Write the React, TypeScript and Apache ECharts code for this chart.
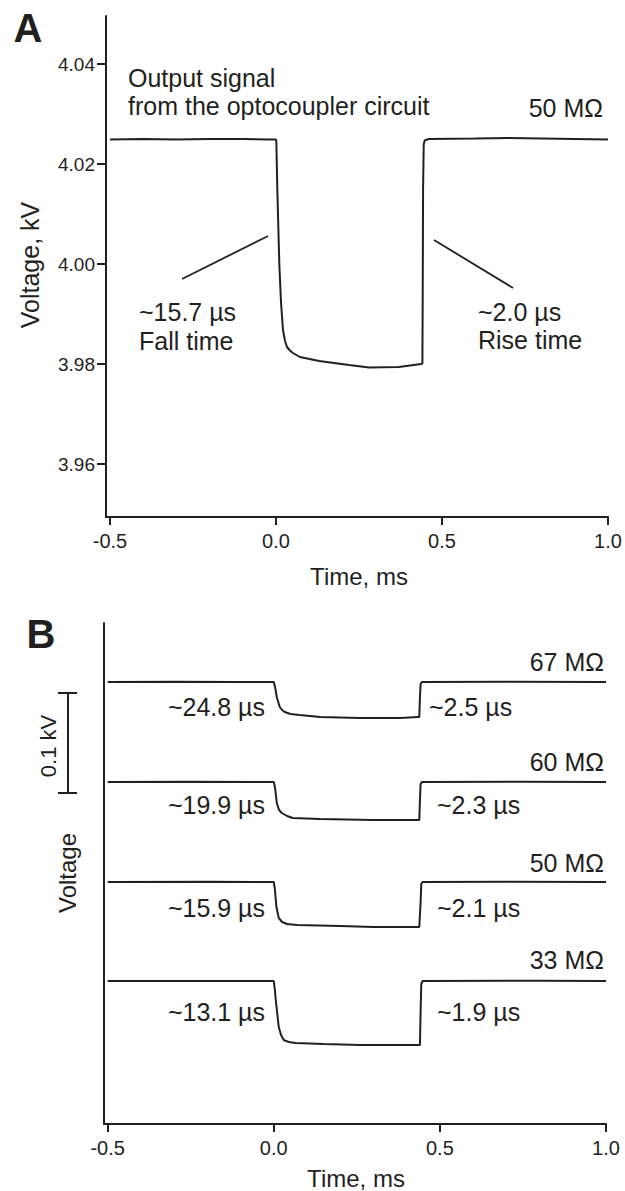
import React, { useEffect, useRef } from "react";
import * as echarts from "echarts";

const FONT = "'Liberation Sans', Arial, Helvetica, sans-serif";
const INK = "#231f20";

// ---------- Panel A: output signal, 50 MΩ ----------
const timeA = [-0.5, -0.4, -0.3, -0.2, -0.1, -0.02, 0.0, 0.001, 0.004, 0.01, 0.015, 0.021, 0.027, 0.033, 0.042, 0.051, 0.072, 0.13, 0.22, 0.28, 0.37, 0.437, 0.441, 0.442, 0.443, 0.445, 0.448, 0.46, 0.6, 0.7, 0.8, 0.9, 1.0];
const voltA = [4.0249, 4.025, 4.0249, 4.025, 4.025, 4.0249, 4.0249, 4.0246, 4.015, 4.0, 3.9925, 3.9868, 3.9847, 3.9834, 3.9827, 3.9822, 3.9814, 3.9806, 3.9798, 3.9793, 3.9794, 3.98, 3.9801, 3.995, 4.015, 4.024, 4.0247, 4.025, 4.0251, 4.0252, 4.0251, 4.025, 4.0249];
const yTicksA = [3.96, 3.98, 4.0, 4.02, 4.04];
const xTicks = [-0.5, 0.0, 0.5, 1.0];
// leader lines [x1, y1, x2, y2] in data units
const leadersA = [
  [-0.283, 3.997, -0.024, 4.0056],
  [0.476, 4.0048, 0.714, 3.9952],
];

// ---------- Panel B: four resistances ----------
const traceNames = ["67 MΩ", "60 MΩ", "50 MΩ", "33 MΩ"];
const fallTimes = ["~24.8 µs", "~19.9 µs", "~15.9 µs", "~13.1 µs"];
const riseTimes = ["~2.5 µs", "~2.3 µs", "~2.1 µs", "~1.9 µs"];
const traceOffsets = [0.442, 0.342, 0.242, 0.143]; // kV, vertical stacking
const t67 = [-0.5, -0.3, -0.1, 0.0, 0.004, 0.009, 0.018, 0.025, 0.033, 0.05, 0.078, 0.14, 0.26, 0.38, 0.434, 0.438, 0.44, 0.442, 0.446, 0.7, 1.0];
const v67 = [0, 0.0003, 0, 0, -0.005, -0.015, -0.025, -0.028, -0.03, -0.032, -0.033, -0.035, -0.036, -0.036, -0.035, -0.035, -0.015, -0.002, 0, 0.0002, 0];
const t60 = [-0.5, -0.25, 0.0, 0.004, 0.009, 0.016, 0.024, 0.04, 0.057, 0.14, 0.3, 0.434, 0.438, 0.44, 0.442, 0.446, 0.75, 1.0];
const v60 = [0, 0.0002, 0, -0.006, -0.021, -0.028, -0.031, -0.034, -0.036, -0.037, -0.038, -0.038, -0.038, -0.018, -0.002, 0, 0.0002, 0];
const t50 = [-0.5, -0.2, 0.0, 0.003, 0.008, 0.015, 0.025, 0.04, 0.07, 0.2, 0.3, 0.438, 0.44, 0.442, 0.444, 0.448, 0.7, 1.0];
const v50 = [0, 0.0003, 0, -0.006, -0.025, -0.036, -0.04, -0.042, -0.043, -0.044, -0.045, -0.045, -0.045, -0.02, -0.002, 0, 0.0003, 0];
const t33 = [-0.5, -0.2, 0.0, 0.003, 0.006, 0.015, 0.022, 0.03, 0.045, 0.066, 0.15, 0.26, 0.437, 0.44, 0.442, 0.444, 0.448, 0.8, 1.0];
const v33 = [0, 0, 0, -0.008, -0.019, -0.046, -0.054, -0.059, -0.061, -0.062, -0.063, -0.064, -0.064, -0.064, -0.03, -0.003, 0, 0.0002, 0];
const tracesT = [t67, t60, t50, t33];
const tracesV = [v67, v60, v50, v33];
const scaleBar = [0.331, 0.431]; // 0.1 kV scale bar, bottom / top

function txt(text: string, x: number, y: number, size: number, align: string, extra: any = {}) {
  return {
    type: "text",
    x,
    y,
    rotation: extra.rotation || 0,
    style: {
      text,
      fill: INK,
      fontSize: size,
      fontFamily: FONT,
      fontWeight: extra.bold ? "bold" : "normal",
      align,
      verticalAlign: "middle",
    },
  };
}

export default function App() {
  const ref = useRef<HTMLDivElement>(null);
  useEffect(() => {
    if (!ref.current) return;
    const chart = echarts.init(ref.current, undefined, { renderer: "svg" });
    const axisLine = { show: true, onZero: false, lineStyle: { color: INK, width: 2 } };
    const lineSeries = (data: number[][], idx: number) => ({
      type: "line",
      xAxisIndex: idx,
      yAxisIndex: idx,
      data,
      showSymbol: false,
      symbol: "none",
      lineStyle: { color: INK, width: 2 },
      silent: true,
    });
    const seriesB = tracesT.map((ts, i) =>
      lineSeries(ts.map((t, j) => [t, tracesV[i][j] + traceOffsets[i]]), 1)
    );
    const labelsB: any[] = [];
    const baseY = [662, 762, 863, 960];
    const lowY = [707, 805, 908, 1012];
    for (let i = 0; i < 4; i++) {
      labelsB.push(txt(traceNames[i], 604, baseY[i], 25, "right"));
      labelsB.push(txt(fallTimes[i], 265, lowY[i], 25, "right"));
      labelsB.push(txt(riseTimes[i], i === 0 ? 429 : 437, lowY[i], 25, "left"));
    }
    const xAxisCfg = (grid: number, min: number) => ({
      gridIndex: grid,
      type: "value",
      min,
      max: 1.0,
      axisLine,
      splitLine: { show: false },
      axisTick: { show: true, length: 8, lineStyle: { color: INK, width: 2 }, customValues: xTicks },
      axisLabel: { customValues: xTicks, formatter: (v: number) => v.toFixed(1), fontSize: 20, color: INK, fontFamily: FONT, margin: 14 },
    });
    chart.setOption({
      animation: false,
      grid: [
        { left: 106, top: 16, width: 502, height: 501 },
        { left: 104, top: 623, width: 502, height: 501 },
      ],
      xAxis: [xAxisCfg(0, -0.512), xAxisCfg(1, -0.511)],
      yAxis: [
        {
          gridIndex: 0,
          type: "value",
          min: 3.9494,
          max: 4.0496,
          axisLine,
          splitLine: { show: false },
          axisTick: { show: true, length: 9, lineStyle: { color: INK, width: 2 }, customValues: yTicksA },
          axisLabel: { customValues: yTicksA, formatter: (v: number) => v.toFixed(2), fontSize: 19, color: INK, fontFamily: FONT, margin: 11 },
        },
        {
          gridIndex: 1,
          type: "value",
          min: 0,
          max: 0.501,
          axisLine,
          splitLine: { show: false },
          axisTick: { show: false },
          axisLabel: { show: false },
        },
      ],
      series: [
        lineSeries(timeA.map((t, i) => [t, voltA[i]]), 0),
        {
          type: "custom",
          xAxisIndex: 0,
          yAxisIndex: 0,
          clip: false,
          silent: true,
          data: leadersA,
          renderItem: (_p: any, api: any) => {
            const a = api.coord([api.value(0), api.value(1)]);
            const b = api.coord([api.value(2), api.value(3)]);
            return {
              type: "line",
              shape: { x1: a[0], y1: a[1], x2: b[0], y2: b[1] },
              style: { stroke: INK, lineWidth: 1.8 },
            };
          },
        },
        ...seriesB,
        {
          type: "custom",
          xAxisIndex: 1,
          yAxisIndex: 1,
          clip: false,
          silent: true,
          data: [scaleBar],
          renderItem: (_p: any, api: any) => {
            const a = api.coord([-0.511, api.value(0)]);
            const b = api.coord([-0.511, api.value(1)]);
            const x = a[0] - 36;
            const st = { stroke: INK, lineWidth: 2 };
            return {
              type: "group",
              children: [
                { type: "line", shape: { x1: x, y1: a[1], x2: x, y2: b[1] }, style: st },
                { type: "line", shape: { x1: x - 10, y1: a[1], x2: x + 9, y2: a[1] }, style: st },
                { type: "line", shape: { x1: x - 10, y1: b[1], x2: x + 9, y2: b[1] }, style: st },
              ],
            };
          },
        },
      ],
      graphic: [
        txt("A", 28, 28, 40, "center", { bold: true }),
        txt("B", 41, 634, 40, "center", { bold: true }),
        txt("Voltage, kV", 30, 265, 25, "center", { rotation: Math.PI / 2 }),
        txt("Time, ms", 359, 576, 24, "center"),
        txt("Output signal", 128, 78, 25, "left"),
        txt("from the optocoupler circuit", 128, 106, 25, "left"),
        txt("50 MΩ", 603, 108, 25, "right"),
        txt("~15.7 µs", 139, 312, 25, "left"),
        txt("Fall time", 139, 341, 25, "left"),
        txt("~2.0 µs", 478, 312, 25, "left"),
        txt("Rise time", 478, 340, 25, "left"),
        txt("0.1 kV", 48, 746, 22, "center", { rotation: Math.PI / 2 }),
        txt("Voltage", 67, 873, 24, "center", { rotation: Math.PI / 2 }),
        txt("Time, ms", 356, 1178, 24, "center"),
        ...labelsB,
      ],
    });
    return () => chart.dispose();
  }, []);
  return (
    <div
      ref={ref}
      style={{ position: "absolute", left: 0, top: 0, width: 625, height: 1191, background: "#fff" }}
    />
  );
}
